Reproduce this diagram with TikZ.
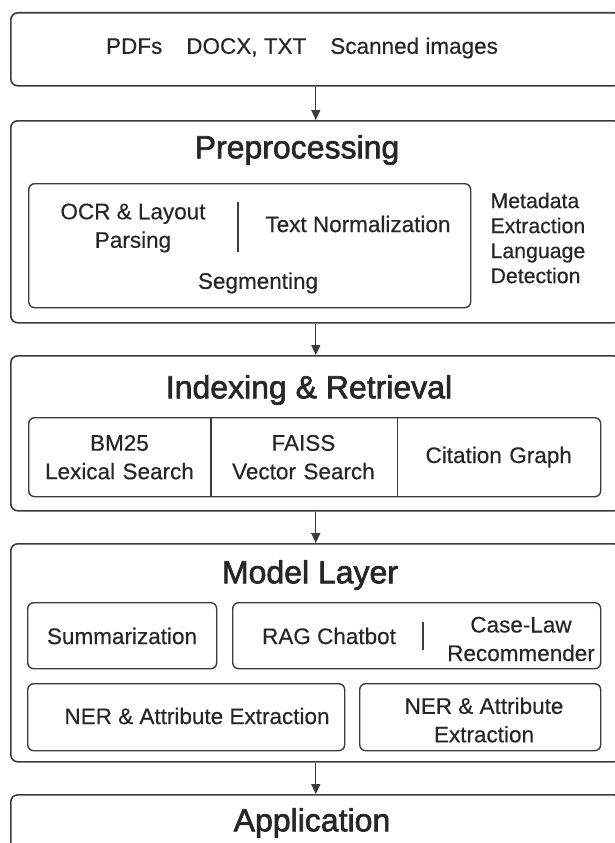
\documentclass[tikz,border=0pt]{standalone}
\usepackage{fontspec}
\setmainfont{Liberation Sans}[FakeBold=0.4]
\newfontfamily\titlefont{Liberation Sans}[FakeBold=2]
\usepackage{tikz}
\usetikzlibrary{positioning}
\usetikzlibrary{arrows.meta, fit, shapes}
\usetikzlibrary{matrix}

\definecolor{linegray}{HTML}{3C3C3C}
\definecolor{textgray}{HTML}{262626}

\begin{document}
\begin{tikzpicture}[x=1pt, y=-1pt]

\tikzset{layer/.style={
		draw=linegray, line width=1.6pt, rounded corners=7pt,
		anchor=north west, inner sep=0pt,
		minimum width=#1
	},
	layer/.default=610pt,
	panel/.style={draw=linegray, line width=1.4pt, rounded corners=6pt, anchor=north west, inner sep=0pt},
	title/.style={text=textgray, font=\titlefont\fontsize{32}{36}\selectfont},
	label/.style={text=textgray, align=center, font=\fontsize{22.5}{28.5}\selectfont},
	divider/.style={draw=linegray, line width=1.4pt},
	flow/.style={draw=linegray, line width=1.3pt, -{Triangle[length=10pt,width=9pt]}},
	cell matrix/.style={
		matrix of nodes,
		column sep=0pt, row sep=0pt,
		nodes={label,
			minimum height=#1,
			anchor=center,
			inner sep=0pt
		},
	},
	cell matrix/.default=79pt
}
\useasboundingbox (0,0) rectangle (614,843);

% layers
\node[layer, minimum height=73pt] (src) at (10,12) {};
\node[layer, minimum height=202pt] (prep) at (10,120) {};
\node[layer, minimum height=155pt] (index) at (10,355) {};
\node[layer, minimum height=218pt] (model) at (10,543) {};
\node[layer, minimum height=90pt] (app) at (10,794) {};

\draw[flow] (src) -- (prep);
\draw[flow] (prep) -- (index);
\draw[flow] (index) -- (model);
\draw[flow] (model) -- (app);

% sources
\node[label] (formats) at (302,48) {PDFs\hspace{24pt}DOCX, TXT\hspace{24pt}Scanned images};

% preprocessing
\node[title] (prep title) at (297,150) {Preprocessing};
\node[panel, minimum width=442pt, minimum height=124pt] (prep panel) at (28,183) {};
\node[label] (ocr) at (133,228) {OCR \& Layout\\Parsing};
\draw[divider] (238,202) -- (238,252);
\node[label] (norm) at (358,224) {Text Normalization};
\node[label] (seg) at (258,283) {Segmenting};
\node[label, align=left, anchor=west, font=\fontsize{21.3}{25}\selectfont] (meta) at (487,238) {Metadata\\Extraction\\Language\\Detection};

% indexing
\node[title] (index title) at (309,390) {Indexing \& Retrieval};
\matrix[cell matrix, anchor=north west, draw=linegray, line width=1.4pt, rounded corners=6pt, inner sep=0pt,
	column 1/.style={nodes={text width=181.5pt}},
	column 2/.style={nodes={text width=186.5pt}},
	column 3/.style={nodes={text width=204pt}}] (search) at (28,417)
{
	{BM25\\Lexical Search} & {FAISS\\Vector Search} & Citation Graph \\
};
\draw[divider] (search-1-1.north east) -- (search-1-1.south east);
\draw[divider] (search-1-2.north east) -- (search-1-2.south east);

% models
\node[title] (model title) at (310,575) {Model Layer};
\node[panel, minimum width=189pt, minimum height=66pt] (summ box) at (27,602) {};
\node[label] (summ) at (122,636) {Summarization};
\node[panel, minimum width=368pt, minimum height=66pt] (rag box) at (232,602) {};
\node[label] (rag) at (329,636) {RAG Chatbot};
\draw[divider] (423,622) -- (423,650);
\node[label] (caselaw) at (521,639) {Case-Law\\Recommender};
\node[panel, minimum width=317pt, minimum height=67pt] (ner box) at (27,683) {};
\node[label] (ner) at (197,716) {NER \& Attribute Extraction};
\node[panel, minimum width=241pt, minimum height=67pt] (attr box) at (359,683) {};
\node[label] (attr) at (484,720) {NER \& Attribute\\Extraction};

% application
\node[title] (app title) at (312,823) {Application};

\end{tikzpicture}
\end{document}
